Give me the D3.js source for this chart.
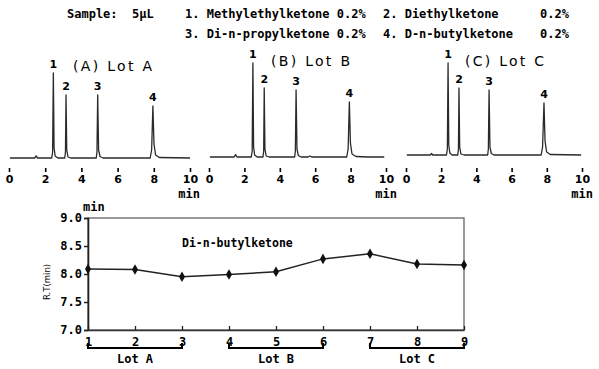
<!DOCTYPE html>
<html><head><meta charset="utf-8">
<script src="https://cdn.jsdelivr.net/npm/d3@7"></script>
<style>
body{margin:0;background:#fff;}
svg{display:block;}
.mono{font-family:"DejaVu Sans Mono",monospace;font-weight:bold;white-space:pre;}
</style></head>
<body><svg id="c" width="599" height="369"></svg>
<script>
// ---- header text ----
const sampleText = "Sample:  5\u03BCL";
const compoundsRow1 = ["1. Methylethylketone 0.2%", "2. Diethylketone", "0.2%"];
const compoundsRow2 = ["3. Di-n-propylketone 0.2%", "4. D-n-butylketone", "0.2%"];

// ---- chromatograms ----
const chromTicks = [0, 2, 4, 6, 8, 10];
const peakNames = ["1", "2", "3", "4"];
const lotTitles = ["(A) Lot A", "(B) Lot B", "(C) Lot C"];
const peakTimesA = [2.45, 3.15, 4.90, 7.95];
const peakHeightsA = [85, 63, 63, 52];
const peakTimesB = [2.48, 3.12, 4.92, 7.93];
const peakHeightsB = [94, 69, 67, 55];
const peakTimesC = [2.39, 3.01, 4.72, 7.84];
const peakHeightsC = [92, 67, 65, 52];
const traceA = [[0.05,0],[1.42,0],[1.5,2],[1.58,0],[2.36,0],[2.41,6],[2.45,85],[2.49,10],[2.55,2],[2.7,0],
  [3.08,0],[3.12,6],[3.15,63],[3.19,8],[3.26,1],[3.4,0],[4.82,0],[4.86,6],[4.90,63],[4.95,8],[5.03,1.5],[5.2,0],
  [7.8,0],[7.88,8],[7.95,52],[8.01,14],[8.1,3],[8.3,0.5],[10,0]];
const traceB = [[0.05,0],[1.42,0],[1.5,2.5],[1.58,0],[2.39,0],[2.44,6],[2.48,94],[2.52,10],[2.58,2],[2.72,0],
  [3.05,0],[3.09,6],[3.12,69],[3.16,8],[3.23,1],[3.4,0],[4.84,0],[4.88,6],[4.92,67],[4.97,8],[5.05,1.5],[5.2,0],
  [5.6,0],[5.7,1],[5.8,0],[7.78,0],[7.86,8],[7.93,55],[7.99,14],[8.08,3],[8.3,0.5],[9.0,0],[9.9,0]];
const traceC = [[0.05,0],[1.38,0],[1.45,1.5],[1.52,0],[2.30,0],[2.35,6],[2.39,92],[2.43,10],[2.49,2],[2.62,0],
  [2.94,0],[2.98,6],[3.01,67],[3.05,8],[3.12,1],[3.3,0],[4.64,0],[4.68,6],[4.72,65],[4.77,8],[4.85,1.5],[5.0,0],
  [7.68,0],[7.76,8],[7.84,52],[7.90,14],[7.99,3],[8.2,0.5],[9.95,0]];

// ---- retention time plot ----
const rtRuns = [1, 2, 3, 4, 5, 6, 7, 8, 9];
const rtValues = [8.09, 8.08, 7.95, 7.99, 8.04, 8.27, 8.36, 8.18, 8.16];
const rtTicks = [7.0, 7.5, 8.0, 8.5, 9.0];
const lotGroups = [["Lot A", 1, 3], ["Lot B", 4, 6], ["Lot C", 7, 9]];
const compoundLabel = "Di-n-butylketone";

const svg = d3.select("#c");

// header
svg.append("text").attr("class","mono").attr("x",67).attr("y",18).attr("font-size",12)
  .attr("xml:space","preserve").text(sampleText);
[[compoundsRow1,18],[compoundsRow2,38]].forEach(([row,y])=>{
  [185,383,540].forEach((x,i)=>{
    svg.append("text").attr("class","mono").attr("x",x).attr("y",y).attr("font-size",12)
      .attr("xml:space","preserve").text(row[i]);
  });
});

// chromatogram panels
const panels = [
  {x0:9, x1:190, base:158, trace:traceA, times:peakTimesA, heights:peakHeightsA, title:lotTitles[0], tx:73, ty:71, minX:200},
  {x0:209, x1:386, base:157, trace:traceB, times:peakTimesB, heights:peakHeightsB, title:lotTitles[1], tx:271, ty:66, minX:397},
  {x0:406, x1:582, base:155, trace:traceC, times:peakTimesC, heights:peakHeightsC, title:lotTitles[2], tx:465, ty:66, minX:593}
];
panels.forEach(p=>{
  const x = d3.scaleLinear().domain([0,10]).range([p.x0,p.x1]);
  const y = d3.scaleLinear().domain([0,100]).range([p.base,p.base-100]);
  const g = svg.append("g");
  g.append("path").datum(p.trace)
    .attr("d", d3.line().x(d=>x(d[0])).y(d=>y(d[1])))
    .attr("fill","none").attr("stroke","#2a2a2a").attr("stroke-width",1.3).attr("stroke-linejoin","round");
  // peak labels
  p.times.forEach((t,i)=>{
    g.append("text").attr("x",x(t)).attr("y",y(p.heights[i])-5)
      .attr("text-anchor","middle").attr("font-family","DejaVu Sans, sans-serif").attr("font-weight","bold")
      .attr("font-size",11).text(peakNames[i]);
  });
  g.append("text").attr("x",p.tx).attr("y",p.ty).attr("font-family","DejaVu Sans, sans-serif")
    .attr("font-size",14).attr("textLength",79).attr("lengthAdjust","spacing").text(p.title);
  // axis
  const ax = d3.axisBottom(x).tickValues(chromTicks).tickSize(4).tickFormat(d3.format("d"));
  const axG = g.append("g").attr("transform","translate(0,168)").call(ax);
  axG.select(".domain").remove();
  axG.selectAll(".tick line").attr("stroke","#000").attr("stroke-width",1.6);
  axG.selectAll(".tick text").attr("y",7).attr("font-family","DejaVu Sans, sans-serif")
    .attr("font-weight","bold").attr("font-size",11).attr("fill","#000");
  g.append("text").attr("class","mono").attr("x",p.minX).attr("y",198).attr("text-anchor","end")
    .attr("font-size",12).text("min");
});

// retention time plot
const X = d3.scaleLinear().domain([1,9]).range([88,464]);
const Y = d3.scaleLinear().domain([7,9]).range([330,218]);
const rg = svg.append("g");
rg.append("rect").attr("x",X(1)).attr("y",Y(9)).attr("width",X(9)-X(1)).attr("height",Y(7)-Y(9))
  .attr("fill","none").attr("stroke","#555").attr("stroke-width",1.2);
const yAx = d3.axisLeft(Y).tickValues(rtTicks).tickSize(4).tickFormat(d3.format(".1f"));
const yG = rg.append("g").attr("transform",`translate(${X(1)},0)`).call(yAx);
yG.select(".domain").attr("stroke","#222").attr("stroke-width",1.6);
yG.selectAll(".tick line").attr("stroke","#222").attr("stroke-width",1.5);
yG.selectAll(".tick text").attr("class","mono").attr("font-size",12).attr("fill","#000").attr("x",-6);
const xAx = d3.axisBottom(X).tickValues(rtRuns).tickSizeInner(-4).tickSizeOuter(0).tickFormat(d3.format("d"));
const xG = rg.append("g").attr("transform",`translate(0,${Y(7)})`).call(xAx);
xG.select(".domain").attr("stroke","#333").attr("stroke-width",1.4);
xG.selectAll(".tick line").attr("stroke","#222").attr("stroke-width",1.3);
xG.selectAll(".tick text").attr("class","mono").attr("font-size",12).attr("fill","#000").attr("y",7);
rg.append("text").attr("class","mono").attr("x",83).attr("y",211).attr("font-size",12).text("min");
rg.append("text").attr("transform","translate(50,282) rotate(-90)").attr("text-anchor","middle")
  .attr("font-family","DejaVu Sans, sans-serif").attr("font-size",8.5).text("R.T(min)");
rg.append("text").attr("class","mono").attr("x",182).attr("y",247).attr("font-size",11.5).text(compoundLabel);
// series
rg.append("path").datum(rtValues.map((v,i)=>[rtRuns[i],v]))
  .attr("d", d3.line().x(d=>X(d[0])).y(d=>Y(d[1])))
  .attr("fill","none").attr("stroke","#222").attr("stroke-width",1.5);
rg.selectAll(".pt").data(rtValues).enter().append("path")
  .attr("transform",(d,i)=>`translate(${X(rtRuns[i])},${Y(d)})`)
  .attr("d", d3.symbol().type(d3.symbolDiamond).size(32)).attr("fill","#111");
// lot brackets
lotGroups.forEach(([name,a,b])=>{
  const x1 = X(a), x2 = X(b), yb = 348;
  rg.append("path").attr("d",`M${x1},${yb-5}V${yb}H${x2}V${yb-5}`)
    .attr("fill","none").attr("stroke","#000").attr("stroke-width",2);
  rg.append("text").attr("class","mono").attr("x",(x1+x2)/2).attr("y",363).attr("text-anchor","middle")
    .attr("font-size",12).text(name);
});
</script></body></html>
